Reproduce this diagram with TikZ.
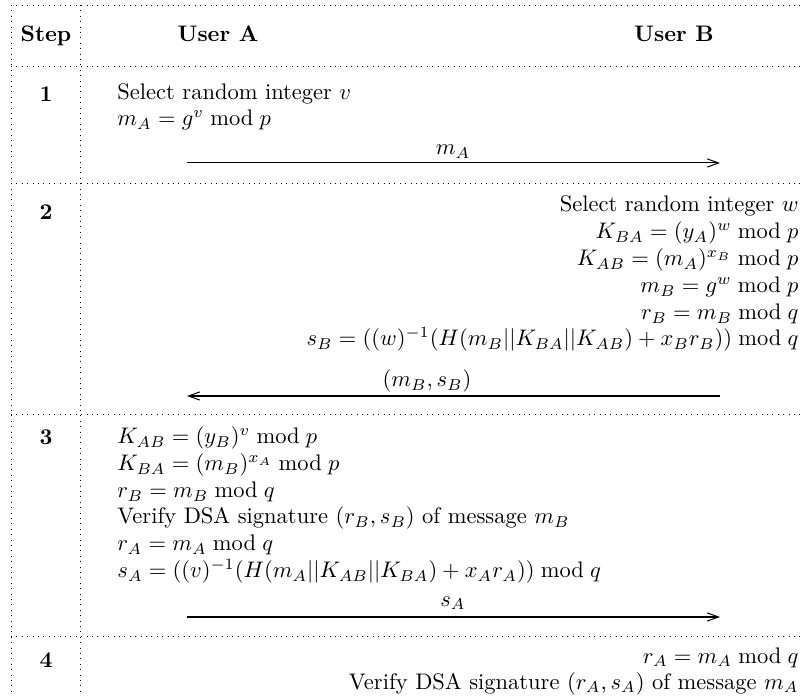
\documentclass[tikz,border=0pt]{standalone}
\usetikzlibrary{arrows.meta}
\begin{document}
\begin{tikzpicture}[x=0.4444pt,y=-0.4444pt,
  grid/.style={dotted, line width=0.4pt},
  lt/.style={anchor=base west, inner sep=0pt},
  rt/.style={anchor=base east, inner sep=0pt},
  ct/.style={anchor=base, inner sep=0pt},
  hd/.style={anchor=base, inner sep=0pt, font=\bfseries},
  msg/.style={-{Straight Barb[length=5pt,width=3.6pt]}, line width=0.45pt}]
\useasboundingbox (0,0) rectangle (801,696);
% grid
\draw[grid] (11,5) -- (801,5);
\draw[grid] (11,66) -- (801,66);
\draw[grid] (11,183) -- (801,183);
\draw[grid] (11,414) -- (801,414);
\draw[grid] (11,636) -- (801,636);
\draw[grid] (11,5) -- (11,696);
\draw[grid] (80,5) -- (80,696);
% header
\node[hd] (hstep) at (46,42) {Step};
\node[hd] (husera) at (218,42) {User A};
\node[hd] (huserb) at (674,42) {User B};
% row 1
\node[hd] (s1) at (46,102) {1};
\node[lt] (r1a) at (117,100) {Select random integer $v$};
\node[lt] (r1b) at (117,126) {$m_A = g^v \bmod p$};
\coordinate (a1s) at (187,163);
\coordinate (a1e) at (720,163);
\draw[msg] (a1s) -- (a1e);
\node[ct] (l1) at (453,155) {$m_A$};
% row 2
\node[hd] (s2) at (46,220) {2};
\node[rt] (r2a) at (799,212) {Select random integer $w$};
\node[rt] (r2b) at (799,239) {$K_{BA} = (y_A)^w \bmod p$};
\node[rt] (r2c) at (799,266) {$K_{AB} = (m_A)^{x_B} \bmod p$};
\node[rt] (r2d) at (799,293) {$m_B = g^w \bmod p$};
\node[rt] (r2e) at (799,320) {$r_B = m_B \bmod q$};
\node[rt] (r2f) at (799,346) {$s_B = ((w)^{-1}(H(m_B||K_{BA}||K_{AB}) + x_B r_B)) \bmod q$};
\coordinate (a2s) at (720,396);
\coordinate (a2e) at (187,396);
\draw[msg] (a2s) -- (a2e);
\node[ct] (l2) at (427,387) {$(m_B, s_B)$};
% row 3
\node[hd] (s3) at (46,445) {3};
\node[lt] (r3a) at (117,444) {$K_{AB} = (y_B)^v \bmod p$};
\node[lt] (r3b) at (117,471) {$K_{BA} = (m_B)^{x_A} \bmod p$};
\node[lt] (r3c) at (117,498) {$r_B = m_B \bmod q$};
\node[lt] (r3d) at (117,524) {Verify DSA signature $(r_B, s_B)$ of message $m_B$};
\node[lt] (r3e) at (117,551) {$r_A = m_A \bmod q$};
\node[lt] (r3f) at (117,578) {$s_A = ((v)^{-1}(H(m_A||K_{AB}||K_{BA}) + x_A r_A)) \bmod q$};
\coordinate (a3s) at (187,617);
\coordinate (a3e) at (720,617);
\draw[msg] (a3s) -- (a3e);
\node[ct] (l3) at (453,606) {$s_A$};
% row 4
\node[hd] (s4) at (46,667) {4};
\node[rt] (r4a) at (799,663) {$r_A = m_A \bmod q$};
\node[rt] (r4b) at (799,689) {Verify DSA signature $(r_A, s_A)$ of message $m_A$};
\end{tikzpicture}
\end{document}
